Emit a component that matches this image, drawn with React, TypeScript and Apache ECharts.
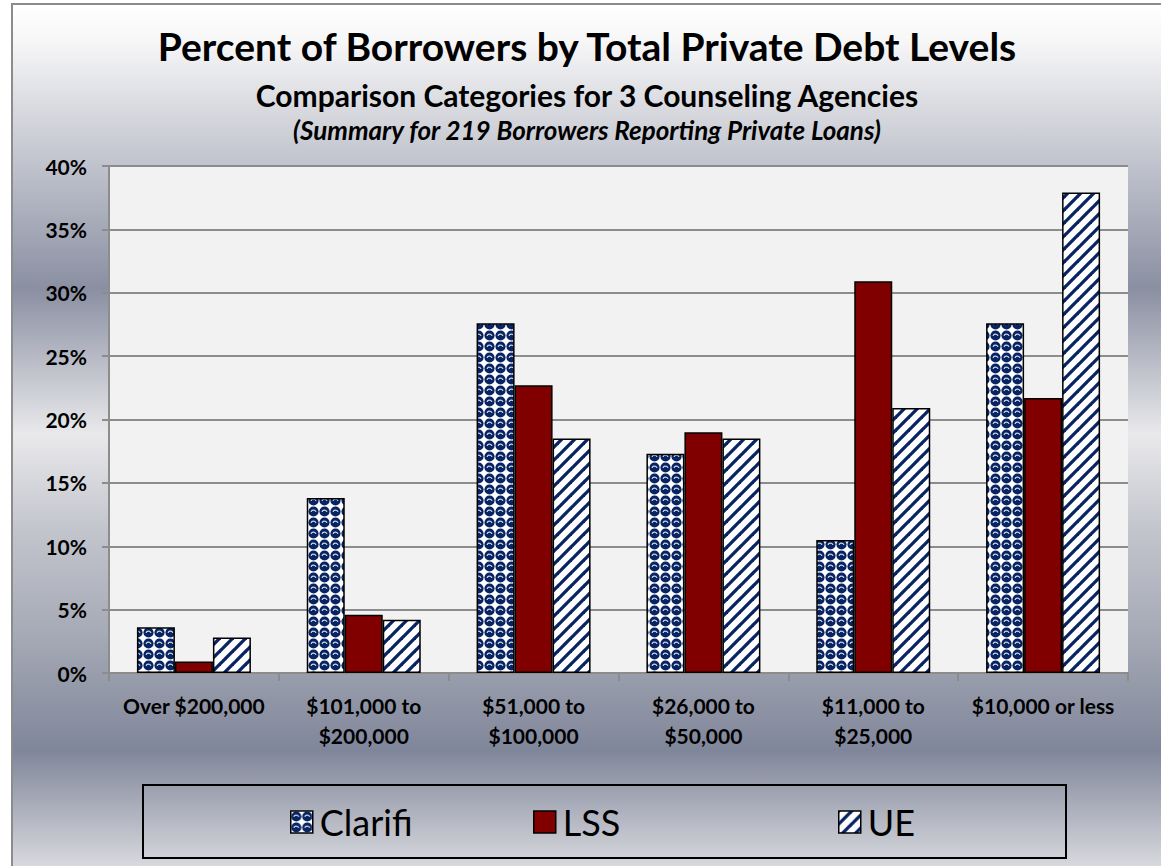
import React, { useEffect, useRef } from "react";
import * as echarts from "echarts";

const categories = [
  "Over $200,000",
  "$101,000 to\n$200,000",
  "$51,000 to\n$100,000",
  "$26,000 to\n$50,000",
  "$11,000 to\n$25,000",
  "$10,000 or less",
];
const seriesNames = ["Clarifi", "LSS", "UE"];
const clarifiValues = [3.6, 13.8, 27.6, 17.3, 10.5, 27.6];
const lssValues = [0.9, 4.6, 22.7, 19.0, 30.9, 21.7];
const ueValues = [2.8, 4.2, 18.5, 18.5, 20.9, 37.9];
const yMin = 0;
const yMax = 40;
const yStep = 5;

const titleText = "Percent of Borrowers by Total Private Debt Levels";
const subtitleText = "Comparison Categories for 3 Counseling Agencies";
const noteText = "(Summary for 219 Borrowers Reporting Private Loans)";

const NAVY = "#082463";

function sphereTile(): HTMLCanvasElement {
  const s = 11;
  const c = document.createElement("canvas");
  c.width = s;
  c.height = s;
  const ctx = c.getContext("2d")!;
  ctx.fillStyle = "#ffffff";
  ctx.fillRect(0, 0, s, s);
  const cx = 5.5;
  const cy = 5.5;
  ctx.beginPath();
  ctx.fillStyle = NAVY;
  ctx.arc(cx, cy, 5.1, 0, Math.PI * 2);
  ctx.fill();
  ctx.beginPath();
  ctx.strokeStyle = "rgba(255,255,255,0.85)";
  ctx.lineWidth = 1.2;
  ctx.arc(cx, cy + 1.2, 2.6, Math.PI * 1.1, Math.PI * 1.9);
  ctx.stroke();
  return c;
}

function stripeTile(): HTMLCanvasElement {
  const s = 13;
  const c = document.createElement("canvas");
  c.width = s;
  c.height = s;
  const ctx = c.getContext("2d")!;
  ctx.fillStyle = "#ffffff";
  ctx.fillRect(0, 0, s, s);
  ctx.strokeStyle = NAVY;
  ctx.lineWidth = 3.3;
  for (const k of [-s, 0, s]) {
    ctx.beginPath();
    ctx.moveTo(k - 2, s + 2);
    ctx.lineTo(k + s + 2, -2);
    ctx.stroke();
  }
  return c;
}

export default function App() {
  const ref = useRef<HTMLDivElement>(null);

  useEffect(() => {
    if (!ref.current) return;
    const chart = echarts.init(ref.current, null, { renderer: "svg" });
    const sp = sphereTile();
    const st = stripeTile();
    const spherePattern: any = { image: sp, repeat: "repeat", imageWidth: sp.width, imageHeight: sp.height };
    const stripePattern: any = { image: st, repeat: "repeat", imageWidth: st.width, imageHeight: st.height };
    const colors: any[] = [spherePattern, "#800000", stripePattern];
    const values = [clarifiValues, lssValues, ueValues];

    const legendX = [290, 533, 838];
    const font = "Lato";

    const option: any = {
      animation: false,
      backgroundColor: "transparent",
      graphic: [
        {
          type: "rect",
          z: 1,
          silent: true,
          shape: { x: 143, y: 785, width: 923, height: 73 },
          style: { fill: "none", stroke: "#000", lineWidth: 2 },
        },
        {
          type: "text",
          x: 587,
          y: 46,
          style: { text: titleText, font: `bold 39px ${font}`, fill: "#000", textAlign: "center", textVerticalAlign: "middle" },
        },
        {
          type: "text",
          x: 587,
          y: 95,
          style: { text: subtitleText, font: `bold 30px ${font}`, fill: "#000", textAlign: "center", textVerticalAlign: "middle" },
        },
        {
          type: "text",
          x: 587,
          y: 130,
          style: { text: noteText, font: `italic bold 26px ${font}`, fill: "#000", textAlign: "center", textVerticalAlign: "middle" },
        },
      ],
      legend: seriesNames.map((n, i) => ({
        data: [n],
        left: legendX[i],
        top: 804,
        padding: 0,
        icon: "rect",
        itemWidth: 22,
        itemHeight: 22,
        selectedMode: false,
        itemStyle: { borderColor: "#000", borderWidth: 1.5 },
        textStyle: { fontFamily: font, fontSize: 36, color: "#000", padding: [0, 0, 0, 2] },
      })),
      grid: {
        left: 109,
        top: 166,
        width: 1019,
        height: 507,
        containLabel: false,
        outerBoundsMode: "none",
        show: true,
        backgroundColor: "#f2f2f2",
        borderWidth: 0,
      },
      xAxis: {
        type: "category",
        data: categories,
        axisLine: { show: true, lineStyle: { color: "#8c8c8c", width: 2 } },
        axisTick: { show: true, length: 8, lineStyle: { color: "#8c8c8c", width: 2 } },
        axisLabel: {
          interval: 0,
          margin: 17,
          fontFamily: font,
          fontWeight: "bold",
          fontSize: 21,
          lineHeight: 30,
          color: "#000",
        },
      },
      yAxis: {
        type: "value",
        min: yMin,
        max: yMax,
        interval: yStep,
        axisLine: { show: true, lineStyle: { color: "#8c8c8c", width: 2 } },
        axisTick: { show: true, length: 7, lineStyle: { color: "#8c8c8c", width: 2 } },
        splitLine: { show: true, lineStyle: { color: "#8c8c8c", width: 2 } },
        axisLabel: {
          formatter: "{value}%",
          margin: 22,
          fontFamily: font,
          fontWeight: "bold",
          fontSize: 21,
          color: "#000",
        },
      },
      series: seriesNames.map((n, i) => ({
        name: n,
        type: "bar",
        data: values[i],
        barWidth: 38,
        barGap: "0%",
        itemStyle: { color: colors[i], borderColor: "#000", borderWidth: 1.5 },
      })),
    };
    chart.setOption(option);
    return () => chart.dispose();
  }, []);

  const bg =
    "linear-gradient(to bottom, #ffffff 0%, #f7f7f8 4.1%, #dcdde2 11%, #bfc2cc 18.7%, #8a8fa2 32.6%, #e9e9eb 49.3%, #c3c5cd 60.3%, #a6aab6 72.3%, #80869a 85.7%, #d8d9de 99%, #dadbe0 100%)";

  return (
    <div style={{ position: "fixed", left: 0, top: 0, width: 1161, height: 866, background: "#ffffff", overflow: "hidden" }}>
      <div
        style={{
          position: "absolute",
          left: 11,
          top: 3,
          width: 1160,
          height: 870,
          borderLeft: "2px solid #8c8c8c",
          borderTop: "2px solid #8c8c8c",
          background: bg,
        }}
      />
      <div ref={ref} style={{ position: "absolute", left: 0, top: 0, width: 1161, height: 866 }} />
    </div>
  );
}
